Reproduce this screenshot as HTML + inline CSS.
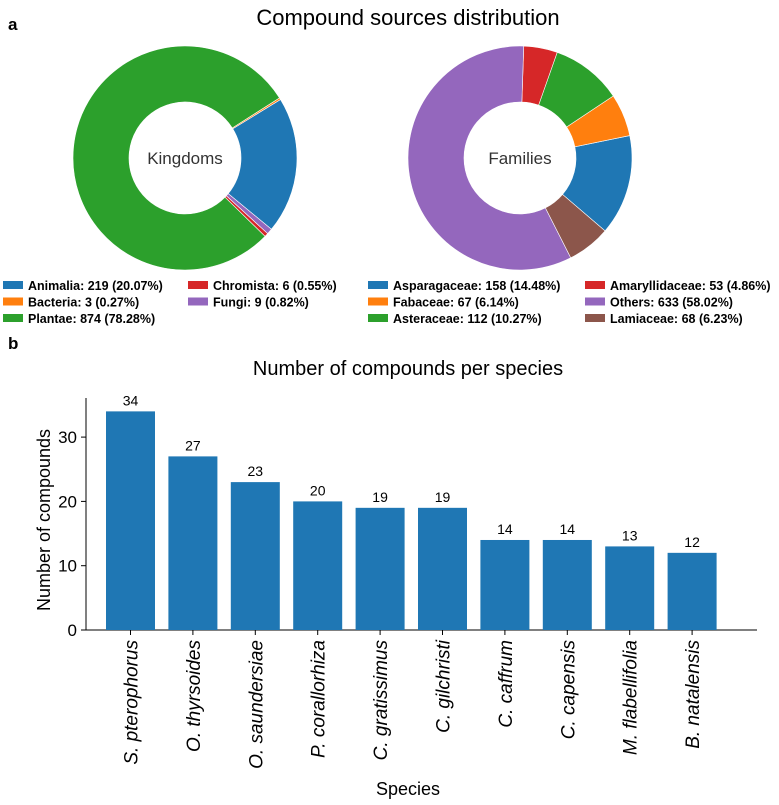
<!DOCTYPE html>
<html><head><meta charset="utf-8"><style>
body{margin:0;background:#fff;width:779px;height:805px;overflow:hidden;font-family:"Liberation Sans","DejaVu Sans",sans-serif}
svg{display:block}
</style></head><body>
<svg width="779" height="805" viewBox="0 0 779 805">
<text x="8" y="30" font-size="17" font-weight="bold">a</text>
<text x="408" y="25" text-anchor="middle" font-size="22">Compound sources distribution</text>
<g id="pies"></g>
<g id="legends"></g>
<text x="8" y="349" font-size="17" font-weight="bold">b</text>
<text x="408" y="375" text-anchor="middle" font-size="20">Number of compounds per species</text>
<g id="bars"></g>
</svg>
<script>
const kingdomLabels=["Animalia","Bacteria","Plantae","Chromista","Fungi"];
const kingdomValues=[219,3,874,6,9];
const kingdomPct=["20.07%","0.27%","78.28%","0.55%","0.82%"];
const familyLabels=["Asparagaceae","Fabaceae","Asteraceae","Amaryllidaceae","Others","Lamiaceae"];
const familyValues=[158,67,112,53,633,68];
const familyPct=["14.48%","6.14%","10.27%","4.86%","58.02%","6.23%"];
const species=["S. pterophorus","O. thyrsoides","O. saundersiae","P. corallorhiza","C. gratissimus","C. gilchristi","C. caffrum","C. capensis","M. flabellifolia","B. natalensis"];
const speciesCounts=[34,27,23,20,19,19,14,14,13,12];
const yTicks=[0,10,20,30];
const NS="http://www.w3.org/2000/svg";
function mk(t,a,p){const e=document.createElementNS(NS,t);for(const k in a)e.setAttribute(k,a[k]);p.appendChild(e);return e;}
const kCol=["#1f77b4","#ff7f0e","#2ca02c","#d62728","#9467bd"];
const fCol=["#1f77b4","#ff7f0e","#2ca02c","#d62728","#9467bd","#8c564b"];
function donut(cx,cy,vals,cols,start,label,name){
  const g=document.getElementById('pies');
  const tot=vals.reduce((a,b)=>a+b,0);const R=112,r=56;let a=start;
  vals.forEach((v,i)=>{
    const sw=v/tot*360;const a2=a+sw;
    const p=(ang,rad)=>[cx+rad*Math.cos(ang*Math.PI/180),cy-rad*Math.sin(ang*Math.PI/180)];
    const [x1,y1]=p(a,R),[x2,y2]=p(a2,R),[x3,y3]=p(a2,r),[x4,y4]=p(a,r);
    const lg=sw>180?1:0;
    const e=mk('path',{d:`M${x1},${y1}A${R},${R} 0 ${lg} 0 ${x2},${y2}L${x3},${y3}A${r},${r} 0 ${lg} 1 ${x4},${y4}Z`,fill:cols[i],stroke:'#fff','stroke-width':0.6},g);
    
    
    a=a2;
  });
  const t=mk('text',{x:cx,y:cy+6,'text-anchor':'middle','font-size':17,fill:'#333'},g);t.textContent=label;
  
  
}
donut(185,158,kingdomValues,kCol,-39.5,"Kingdoms","kingdoms");
donut(520,158,familyValues,fCol,-40.6,"Families","families");
function legend(labels,vals,pcts,cols,x0,x1,rows){
  const g=document.getElementById('legends');
  labels.forEach((l,i)=>{
    const col=Math.floor(i/rows),row=i%rows;const x=col?x1:x0,y=285+row*16.5;
    const r=mk('rect',{x:x,y:y-4,width:20,height:8,fill:cols[i]},g);
    
    
    const t=mk('text',{x:x+25,y:y+5,'font-size':12.5,'font-weight':'bold'},g);
    t.textContent=`${l}: ${vals[i]} (${pcts[i]})`;
    
    
  });
}
legend(kingdomLabels,kingdomValues,kingdomPct,kCol,3,188,3);
legend(familyLabels,familyValues,familyPct,fCol,368,585,3);
const bg=document.getElementById('bars');
const y0=630,pxPer=6.43,x0=130.5,pitch=62.4,bw=49;
const ys=v=>y0-v*pxPer, xs=i=>x0+i*pitch;
mk('line',{x1:86,y1:y0,x2:757,y2:y0,stroke:'#000','stroke-width':1},bg);
mk('line',{x1:86,y1:y0,x2:86,y2:398,stroke:'#000','stroke-width':1},bg);
yTicks.forEach(v=>{
  mk('line',{x1:81,y1:ys(v),x2:86,y2:ys(v),stroke:'#000'},bg);
  const t=mk('text',{x:77,y:ys(v)+6,'text-anchor':'end','font-size':17},bg);t.textContent=v;
  
  
});
speciesCounts.forEach((v,i)=>{
  const r=mk('rect',{x:xs(i)-bw/2,y:ys(v),width:bw,height:v*pxPer,fill:'#1f77b4'},bg);
  
  
  const t=mk('text',{x:xs(i),y:ys(v)-6,'text-anchor':'middle','font-size':14},bg);t.textContent=v;
  
  
  mk('line',{x1:xs(i),y1:y0,x2:xs(i),y2:y0+5,stroke:'#000'},bg);
  const s=mk('text',{x:0,y:0,'text-anchor':'end','font-size':19,'font-style':'italic',transform:`translate(${xs(i)+7},${y0+10}) rotate(-90)`},bg);s.textContent=species[i];
  
  
});
const yl=mk('text',{x:0,y:0,'text-anchor':'middle','font-size':18,transform:'translate(50,520) rotate(-90)'},bg);yl.textContent="Number of compounds";


const xl=mk('text',{x:408,y:795,'text-anchor':'middle','font-size':18},bg);xl.textContent="Species";


</script>
</body></html>
